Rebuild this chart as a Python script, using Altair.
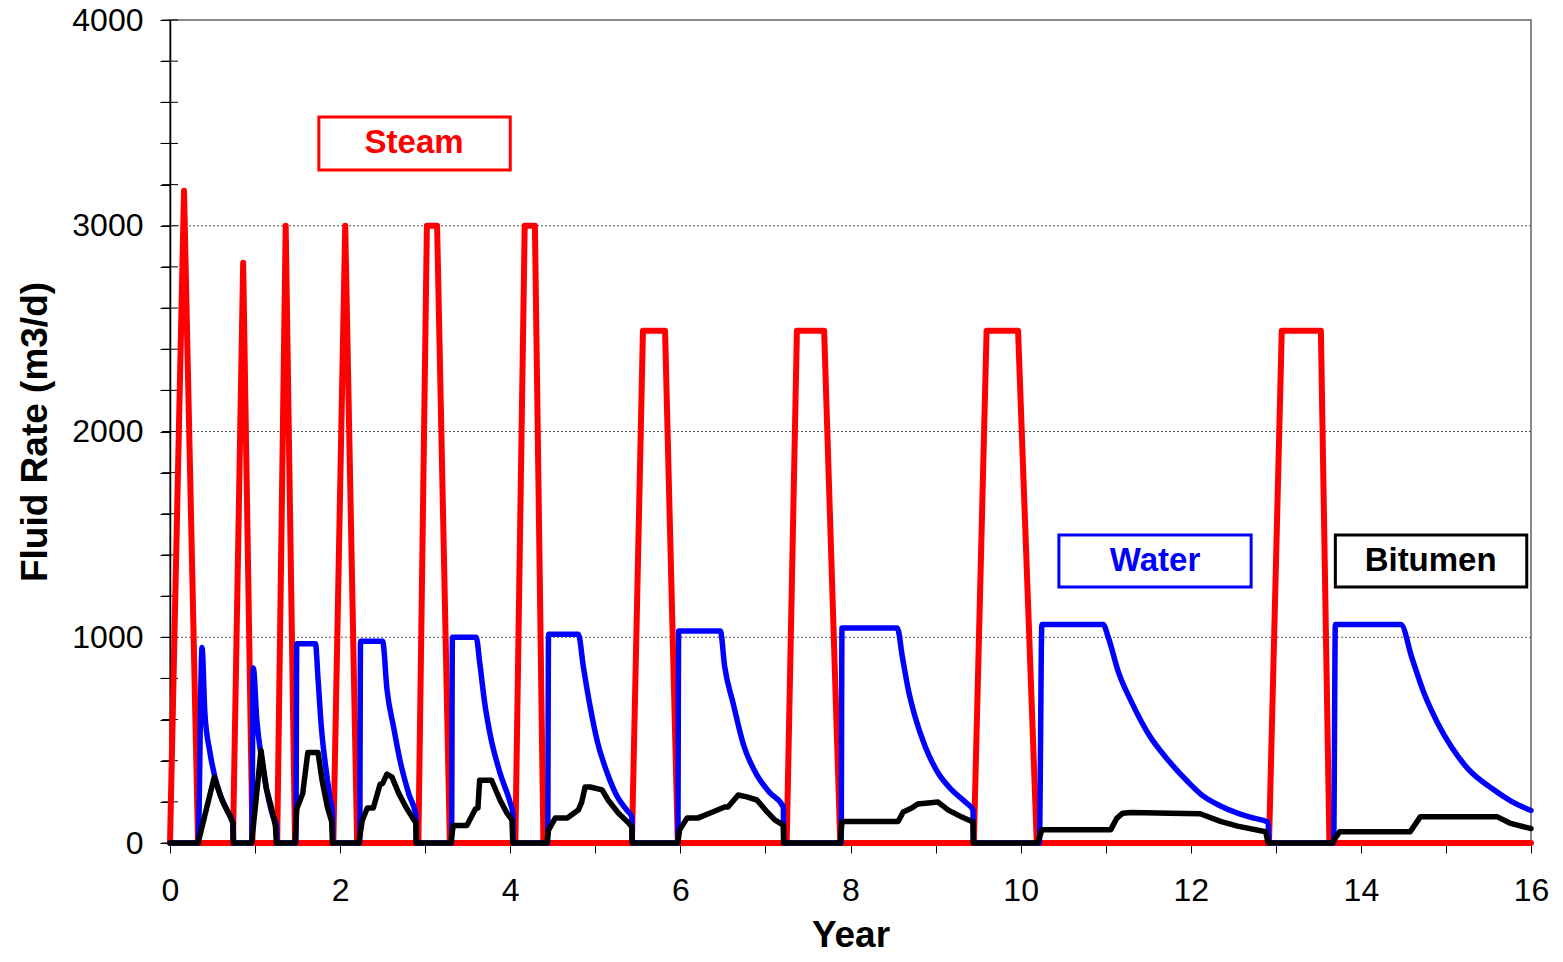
import altair as alt
import pandas as pd

# ---------------- data (year, m3/d) ----------------
steam_year = [0, 0.165, 0.33, 0.74, 0.86, 0.97, 1.26, 1.36, 1.47, 1.92, 2.06, 2.2,
              2.92, 3.02, 3.14, 3.29, 4.06, 4.17, 4.29, 4.39, 5.43, 5.56, 5.82, 5.97,
              7.25, 7.37, 7.69, 7.88, 9.45, 9.6, 9.97, 10.19, 12.92, 13.07, 13.53, 13.63, 16]
steam_rate = [0, 3170, 0, 0, 2820, 0, 0, 3000, 0, 0, 3000, 0,
              0, 3000, 3000, 0, 0, 3000, 3000, 0, 0, 2490, 2490, 0,
              0, 2490, 2490, 0, 0, 2490, 2490, 0, 0, 2490, 2490, 0, 0]

water_year = [0, 0.33, 0.376, 0.41, 0.47, 0.56, 0.67, 0.74, 0.75,
              0.96, 0.98, 1.02, 1.08, 1.14, 1.21, 1.25, 1.26,
              1.48, 1.49, 1.71, 1.74, 1.78, 1.84, 1.88, 1.91, 1.915,
              2.23, 2.24, 2.50, 2.55, 2.63, 2.71, 2.81, 2.89, 2.895,
              3.31, 3.32, 3.60, 3.64, 3.70, 3.76, 3.88, 4.0, 4.03, 4.035,
              4.44, 4.45, 4.80, 4.86, 4.94, 5.02, 5.14, 5.26, 5.37, 5.43, 5.435,
              5.97, 5.98, 6.47, 6.52, 6.62, 6.74, 6.9, 7.05, 7.21, 7.215,
              7.89, 7.90, 8.55, 8.61, 8.68, 8.76, 8.88, 9.03, 9.19, 9.35, 9.44, 9.445,
              10.22, 10.25, 10.97, 11.03, 11.15, 11.31, 11.51, 11.74, 11.96, 12.14,
              12.35, 12.55, 12.73, 12.91, 12.92,
              13.68, 13.70, 14.47, 14.6, 14.75, 14.9, 15.06, 15.26, 15.55, 15.76, 16]
water_rate = [0, 0, 950, 630, 440, 270, 160, 97, 0,
              0, 850, 600, 400, 250, 130, 90, 0,
              0, 968, 968, 800, 560, 340, 220, 150, 0,
              0, 980, 980, 750, 560, 390, 235, 135, 0,
              0, 1000, 1000, 880, 680, 535, 340, 195, 146, 0,
              0, 1015, 1015, 855, 661, 500, 340, 224, 160, 126, 0,
              0, 1030, 1030, 860, 680, 480, 330, 245, 175, 0,
              0, 1045, 1045, 904, 744, 612, 467, 340, 258, 199, 160, 0,
              0, 1062, 1062, 1000, 830, 680, 525, 400, 300, 230,
              180, 145, 122, 100, 0,
              0, 1062, 1062, 900, 720, 585, 470, 360, 262, 205, 158]

bitumen_year = [0, 0.33, 0.52, 0.62, 0.71, 0.74, 0.745,
                0.96, 1.07, 1.13, 1.19, 1.24, 1.25,
                1.47, 1.49, 1.56, 1.62, 1.74, 1.79, 1.85, 1.90, 1.91,
                2.22, 2.26, 2.32, 2.39, 2.47, 2.50, 2.55, 2.61, 2.69, 2.78, 2.87, 2.89, 2.895,
                3.30, 3.33, 3.49, 3.59, 3.62, 3.64, 3.78, 3.88, 3.96, 4.02, 4.03,
                4.43, 4.45, 4.53, 4.67, 4.80, 4.84, 4.88, 4.94, 5.08, 5.15, 5.27, 5.38, 5.43, 5.435,
                5.97, 5.99, 6.08, 6.21, 6.38, 6.52, 6.56, 6.68, 6.78, 6.9, 7.02, 7.11, 7.21, 7.215,
                7.88, 7.90, 8.56, 8.62, 8.72, 8.79, 9.03, 9.15, 9.31, 9.44, 9.445,
                10.20, 10.25, 11.06, 11.13, 11.20, 11.30, 11.76, 12.11, 12.35, 12.55, 12.88, 12.91,
                13.66, 13.75, 14.58, 14.70, 15.60, 15.75, 16]
bitumen_rate = [0, 0, 320, 200, 126, 97, 0,
                0, 450, 270, 175, 80, 0,
                0, 165, 240, 440, 440, 300, 175, 105, 0,
                0, 110, 170, 170, 285, 290, 335, 320, 240, 170, 110, 100, 0,
                0, 85, 85, 165, 170, 305, 305, 209, 146, 112, 0,
                0, 63, 122, 122, 160, 199, 272, 272, 258, 209, 146, 102, 78, 0,
                0, 63, 122, 122, 151, 175, 175, 233, 224, 209, 151, 112, 87, 0,
                0, 105, 105, 151, 170, 190, 199, 160, 126, 102, 0,
                0, 65, 65, 120, 145, 148, 145, 142, 105, 82, 55, 0,
                0, 55, 55, 128, 128, 97, 70]

y_minor_ticks = list(range(0, 4001, 200))
grid_values = [1000, 2000, 3000]

# annotation boxes (data units)
box_label = ["Steam", "Water", "Bitumen"]
box_color = ["#ff0000", "#0000ff", "#000000"]
box_x1 = [1.75, 10.45, 13.70]
box_x2 = [4.0, 12.71, 15.95]
box_y1 = [3271, 1244, 1244]
box_y2 = [3529, 1497, 1497]
box_tx = [2.87, 11.58, 14.82]
box_ty = [3400, 1370, 1370]

FONT = "Liberation Sans"

def series_df(xs, ys):
    return pd.DataFrame({"year": xs, "rate": ys, "idx": list(range(len(xs)))})

xscale = alt.Scale(domain=[0, 16], nice=False, zero=False)
yscale = alt.Scale(domain=[0, 4000], nice=False)

xaxis = alt.Axis(values=list(range(0, 17)), labelExpr="datum.value % 2 == 0 ? datum.label : ''",
                 title="Year", grid=False, tickSize=10, tickColor="black", domainColor="black",
                 domainWidth=1.5, labelFontSize=32, labelFont=FONT, labelColor="black",
                 labelPadding=22, titleFontSize=37, titleFont=FONT, titleFontWeight="bold",
                 titleColor="black", titlePadding=11, labelFlush=False, labelOverlap=False)
yaxis = alt.Axis(values=y_minor_ticks, labelExpr="datum.value % 1000 == 0 ? datum.label : ''",
                 format="d", title="Fluid Rate (m3/d)", grid=False, tickSize=10, tickColor="black",
                 domainColor="black", domainWidth=1.5, labelFontSize=32, labelFont=FONT,
                 labelColor="black", labelPadding=17, titleFontSize=37, titleFont=FONT,
                 titleFontWeight="bold", titleColor="black", titlePadding=17, labelOverlap=False)

def line(df, color, width, interp="linear"):
    return alt.Chart(df).mark_line(color=color, strokeWidth=width, strokeJoin="round",
                                   strokeCap="round", interpolate=interp).encode(
        x=alt.X("year:Q", scale=xscale, axis=xaxis),
        y=alt.Y("rate:Q", scale=yscale, axis=yaxis),
        order="idx:Q")

grid = alt.Chart(pd.DataFrame({"v": grid_values})).mark_rule(
    color="#555555", strokeWidth=1, strokeDash=[2, 2]).encode(
    y=alt.Y("v:Q", scale=yscale, axis=yaxis))

inner_ticks = alt.Chart(pd.DataFrame({"v": y_minor_ticks})).mark_rule(
    color="black", strokeWidth=1).encode(
    y=alt.Y("v:Q", scale=yscale, axis=yaxis), x=alt.value(-8), x2=alt.value(8))

steam = line(series_df(steam_year, steam_rate), "#ff0000", 6)
water = line(series_df(water_year, water_rate), "#0000ff", 5.5, "monotone")
bitumen = line(series_df(bitumen_year, bitumen_rate), "#000000", 5.5)

boxes_df = pd.DataFrame({"label": box_label, "color": box_color, "x1": box_x1, "x2": box_x2,
                         "y1": box_y1, "y2": box_y2, "tx": box_tx, "ty": box_ty})
boxes = alt.Chart(boxes_df).mark_rect(fill="white", strokeWidth=3).encode(
    x=alt.X("x1:Q", scale=xscale, axis=xaxis), x2="x2:Q",
    y=alt.Y("y1:Q", scale=yscale, axis=yaxis), y2="y2:Q",
    stroke=alt.Stroke("color:N", scale=None))
labels = alt.Chart(boxes_df).mark_text(font=FONT, fontSize=33, fontWeight="bold",
                                       align="center", baseline="middle").encode(
    x=alt.X("tx:Q", scale=xscale, axis=xaxis),
    y=alt.Y("ty:Q", scale=yscale, axis=yaxis),
    text="label:N",
    color=alt.Color("color:N", scale=None))

chart = alt.layer(grid, inner_ticks, steam, water, bitumen, boxes, labels).properties(
    width=1361, height=823,
    autosize=alt.AutoSizeParams(type="none"),
    padding={"left": 162, "top": 12, "right": 24, "bottom": 111},
    background="white",
).configure_view(stroke="#888888", strokeWidth=2)

chart.save("out.html", embed_options={"renderer": "svg", "actions": False})
